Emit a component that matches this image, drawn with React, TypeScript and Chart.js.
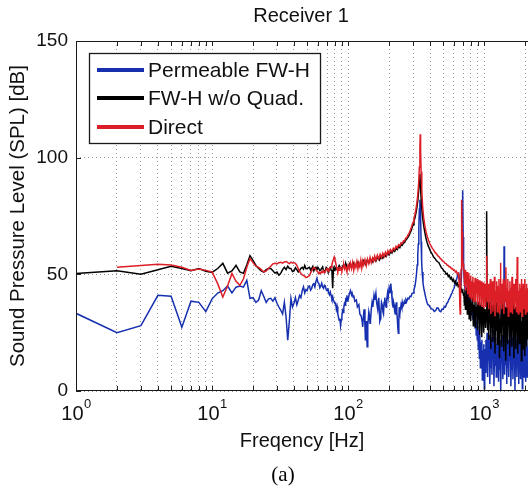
import React, { useEffect, useRef } from 'react';
import { Chart, registerables } from 'chart.js';

Chart.register(...registerables);

const FONT = 'Arial, "Liberation Sans", Helvetica, sans-serif';
const SERIF = '"Times New Roman", "Liberation Serif", serif';

const chartTitle = 'Receiver 1';
const caption = '(a)';
const xAxisTitle = 'Freqency [Hz]';
const yAxisTitle = 'Sound Pressure Level (SPL) [dB]';
const xMajorValues = [1, 10, 100, 1000];
const xTickBase = '10';
const xTickExponents = ['0', '1', '2', '3'];
const xGridValues = [
  1, 2, 3, 4, 5, 6, 7, 8, 9,
  10, 20, 30, 40, 50, 60, 70, 80, 90,
  100, 200, 300, 400, 500, 600, 700, 800, 900,
  1000, 2000,
];
const yTickValues = [0, 50, 100, 150];
const seriesNames = ['Permeable FW-H', 'FW-H w/o Quad.', 'Direct'];
const seriesColors = ['#1630b0', '#000000', '#dc1e26'];

// [frequency Hz, SPL dB]
const permeableFWH: [number, number][] = [
  [1, 33.3], [2, 25], [3, 28], [4, 41], [5, 40.6], [6, 27.3], [7, 38.5], [8, 38], [9, 34], [10, 39.5],
  [11, 42], [12, 43], [13, 45], [14, 42], [15, 44.5], [16, 45], [17, 44.5], [18, 47.4], [19, 39.7], [20, 40],
  [21, 38], [22, 39], [23, 43], [24, 40.5], [25, 38], [26, 39.5], [27, 39.7], [28, 38.5], [29, 40], [30, 37.6],
  [31, 36], [32, 34.6], [33, 33], [34, 38], [35, 31.8], [36, 21.8], [37, 30], [38, 39.7], [39, 36], [40, 37.6],
  [41, 40], [42, 37], [43, 38.9], [44, 41], [45, 40], [46, 43], [47, 44.6], [48, 42], [49, 43.5], [50, 43],
  [51, 44.8], [52, 45], [53, 43.2], [54, 44], [55, 45.6], [56, 46], [57, 44.6], [58, 47], [59, 48.3], [60, 46.5],
  [61, 46], [62, 44.2], [63, 45], [64, 46.2], [65, 44.5], [66, 44], [67, 45.3], [68, 45], [69, 43.4], [70, 43],
  [71, 44.1], [72, 42], [73, 41.2], [74, 42.4], [75, 41], [76, 39.6], [77, 40.5], [78, 39], [79, 38.2], [80, 37.6],
  [81, 37.6], [82, 35], [83, 36.2], [84, 33], [85, 31.6], [86, 30.3], [87, 31], [88, 28], [89, 30.5], [90, 32],
  [91, 34.4], [92, 33.6], [93, 36], [94, 37.5], [95, 36.8], [96, 40], [97, 38.5], [98, 41], [99, 39.5], [100, 39],
  [102, 41.5], [104, 43], [106, 41.2], [107, 42], [109, 40.2], [110, 41], [112, 38.4], [115, 39], [117, 36], [120, 37],
  [122, 33], [125, 32], [127, 29.5], [128, 27.5], [130, 33], [131, 35], [133, 28], [134, 22], [135, 26], [136, 30],
  [137, 24], [138, 19], [139, 23], [140, 28], [142, 34], [143, 33], [145, 29], [146, 30], [148, 35], [150, 38],
  [152, 36], [155, 41], [157, 39], [160, 42], [162, 38], [165, 35], [167, 39], [168, 40], [170, 33], [171, 30],
  [173, 31], [174, 34], [176, 38], [178, 37], [180, 34], [182, 33], [184, 38], [186, 40], [188, 37], [190, 36],
  [192, 39], [195, 42], [197, 40], [200, 44], [203, 42], [206, 46], [208, 43], [210, 40], [212, 37], [214, 36],
  [216, 38], [218, 37], [220, 34], [222, 33], [224, 36], [226, 38], [228, 34], [230, 31], [232, 27], [234, 24.8],
  [236, 30], [237, 34], [239, 33], [240, 36], [242, 34.5], [245, 37], [248, 35.8], [250, 38], [253, 36.4], [256, 37],
  [259, 38.4], [262, 37.6], [266, 39.2], [270, 38.5], [275, 39.8], [280, 39.5], [285, 40.6], [290, 40.5], [295, 41.8], [300, 42],
  [305, 43.5], [310, 45], [314, 47.2], [318, 50], [322, 54], [325, 58], [328, 63], [331, 70], [334, 78], [337, 82],
  [339, 80], [341, 74], [344, 64], [347, 56], [350, 51], [355, 46.5], [360, 44], [366, 42], [372, 40], [378, 38.5],
  [385, 37], [392, 36.8], [400, 36], [410, 35.2], [420, 35], [430, 34.1], [440, 34.5], [450, 35.6], [460, 35.5], [470, 34.3],
  [480, 34], [490, 35.1], [500, 35], [510, 36.2], [520, 36], [530, 37.4], [540, 38], [550, 39.2], [560, 40], [570, 41.1],
  [580, 42], [590, 43.2], [600, 44], [610, 45.4], [620, 47], [630, 48.2], [640, 50], [650, 50.4], [660, 48], [668, 46.5],
  [675, 45], [682, 50], [688, 62], [693, 80], [697, 86], [701, 66], [706, 55], [712, 49], [718, 46], [724, 43.5],
  [730, 46], [736, 41.5], [742, 44.5], [748, 39.5], [754, 43], [760, 38.5], [766, 42], [772, 36.5], [778, 41], [784, 35.5],
  [790, 39.5], [796, 34], [802, 38], [810, 32.5], [818, 36.5], [826, 30.5], [834, 35], [842, 29], [850, 33.5], [858, 27],
  [866, 32], [874, 24], [882, 30], [890, 22], [898, 28], [906, 18], [914, 26], [922, 14], [930, 24], [938, 10],
  [946, 21], [954, 16], [962, 22], [970, 4.7], [978, 17.5], [986, 9], [994, 20], [1002, 1], [1010, 18], [1020, 8],
  [1030, 22], [1040, 12], [1050, 25], [1060, 6], [1070, 19], [1080, 13], [1090, 24], [1100, 3], [1110, 17], [1120, 10],
  [1130, 23], [1140, 7], [1150, 20], [1160, 14], [1170, 26], [1180, 2], [1192, 18], [1204, 11], [1216, 23], [1228, 6],
  [1240, 20], [1252, 13], [1264, 25], [1276, 4], [1288, 17], [1300, 9], [1312, 22], [1324, 0], [1336, 19], [1348, 12],
  [1360, 24], [1372, 5], [1384, 18], [1394, 14], [1400, 62], [1406, 20], [1418, 7], [1430, 21], [1442, 11], [1454, 24],
  [1466, 3], [1478, 18], [1490, 10], [1502, 22], [1516, 6], [1530, 19], [1544, 13], [1558, 25], [1572, 2], [1586, 17],
  [1600, 9], [1614, 23], [1628, 5], [1642, 20], [1656, 12], [1670, 24], [1684, 0], [1698, 18], [1712, 10], [1726, 22],
  [1740, 6], [1754, 19], [1768, 14], [1782, 25], [1796, 3], [1810, 17], [1824, 9], [1838, 23], [1852, 5], [1866, 20],
  [1880, 12], [1894, 24], [1908, 1], [1922, 18], [1936, 10], [1950, 22], [1964, 6], [1978, 19], [1992, 13], [2006, 24],
  [2020, 4], [2034, 17], [2048, 9], [2062, 22], [2076, 6], [2090, 19], [2100, 12],
];

const fwhWithoutQuad: [number, number][] = [
  [1, 50.4], [2, 51.5], [3, 50], [4, 52], [5, 53.5], [6, 52.5], [7, 51.5], [8, 52.5], [9, 51.3], [10, 50.8],
  [11, 52.5], [12, 54.7], [13, 50.5], [14, 51.5], [15, 53.8], [16, 51], [17, 50.4], [18, 54], [19, 58], [20, 56],
  [21, 53.8], [22, 52.5], [23, 51.5], [24, 51], [25, 52], [26, 52.5], [27, 52.5], [28, 51.5], [29, 50.5], [30, 51],
  [31, 49.6], [32, 50.5], [33, 52], [34, 53], [35, 52], [36, 53.5], [37, 52.5], [38, 52.5], [39, 51.2], [40, 51.5],
  [41, 52.8], [42, 52], [43, 51], [44, 51.7], [45, 52.6], [46, 53], [47, 52.2], [48, 53.8], [49, 52.4], [50, 52.5],
  [52, 53], [53, 51.8], [54, 52.5], [55, 53.4], [56, 51.5], [57, 52.6], [58, 53], [59, 52.1], [60, 53], [62, 51.6],
  [63, 52], [65, 53.2], [66, 51.5], [68, 51.7], [69, 52.9], [70, 52.5], [71, 51.4], [72, 51], [73, 52.6], [74, 53],
  [75, 51.8], [76, 52], [77, 44], [78, 52.5], [79, 51.6], [80, 53], [82, 52.2], [83, 52], [85, 53.1], [86, 53.8],
  [88, 52.7], [90, 52.5], [92, 53.9], [93, 54], [95, 52.8], [96, 54.7], [98, 53.4], [100, 53], [103, 54.6], [106, 53.1],
  [109, 54.9], [112, 53.4], [115, 54.2], [118, 55.3], [121, 53.6], [124, 55], [127, 54.1], [130, 55.8], [134, 54.2], [138, 56],
  [142, 54.9], [146, 56.4], [150, 55.2], [155, 56.8], [160, 55.6], [165, 57.4], [170, 56.1], [175, 57.9], [180, 56.9], [185, 58.4],
  [190, 57.6], [195, 59.2], [200, 58.3], [205, 59.6], [210, 59.1], [215, 60.4], [220, 59.8], [225, 61], [230, 60.6], [235, 61.9],
  [240, 61.4], [245, 62.6], [250, 62.4], [255, 63.5], [260, 63.6], [265, 64.6], [270, 65.1], [275, 65.8], [280, 66.6], [285, 67.6],
  [290, 68.6], [295, 70], [300, 71.2], [305, 72.8], [310, 74.2], [315, 76.2], [320, 78.5], [325, 81.5], [330, 85.5], [334, 90],
  [337, 93], [340, 89], [343, 84], [347, 79], [352, 75], [358, 71.5], [365, 68.5], [372, 66], [380, 63.8], [388, 62.2],
  [396, 61], [405, 59.6], [415, 58.7], [425, 57.4], [435, 56.8], [445, 55.9], [455, 55.4], [465, 55], [475, 53.9], [485, 52.8],
  [495, 52.4], [505, 51.4], [515, 51.2], [525, 50.1], [535, 50.4], [545, 49], [555, 49.5], [565, 48.1], [575, 48.6], [585, 47.2],
  [595, 47.8], [605, 46.4], [615, 47], [625, 45.5], [635, 46.2], [645, 44.8], [655, 45.4], [665, 43.7], [675, 44.3], [685, 42.6],
  [695, 43.2], [705, 41], [710, 42], [716, 37], [722, 43.5], [728, 35], [734, 41], [740, 38.5], [746, 44], [752, 33],
  [758, 40], [764, 36.5], [770, 42.5], [776, 31], [782, 39], [788, 35.5], [794, 41.5], [800, 30], [808, 38], [816, 34],
  [824, 40.5], [832, 28], [840, 37], [848, 33.5], [856, 39.5], [864, 27], [872, 36], [880, 32], [888, 38.5], [896, 26],
  [904, 35], [912, 31], [920, 38], [928, 24], [936, 34], [944, 30], [952, 37], [960, 23], [968, 33], [976, 29],
  [984, 36], [992, 25], [1000, 34], [1008, 30], [1016, 35], [1024, 27], [1032, 33], [1040, 34], [1046, 77], [1052, 32],
  [1060, 26], [1070, 38], [1080, 22], [1090, 35], [1100, 29], [1110, 40], [1120, 18], [1130, 33], [1140, 27], [1150, 37],
  [1160, 21], [1170, 34], [1180, 30], [1190, 41], [1200, 16], [1212, 32], [1224, 26], [1236, 38], [1248, 20], [1260, 35],
  [1272, 28], [1284, 39], [1296, 14], [1308, 31], [1320, 25], [1332, 37], [1344, 19], [1356, 34], [1368, 29], [1380, 42],
  [1392, 17], [1404, 33], [1416, 26], [1428, 36], [1440, 13], [1452, 31], [1464, 24], [1476, 38], [1488, 20], [1500, 34],
  [1514, 28], [1528, 40], [1542, 15], [1556, 32], [1570, 25], [1584, 37], [1598, 19], [1612, 33], [1626, 27], [1640, 39],
  [1654, 14], [1668, 31], [1682, 24], [1696, 36], [1710, 18], [1724, 34], [1738, 28], [1752, 41], [1766, 16], [1780, 32],
  [1794, 25], [1808, 37], [1822, 20], [1836, 33], [1850, 27], [1864, 38], [1878, 13], [1892, 30], [1906, 24], [1920, 36],
  [1934, 18], [1948, 32], [1962, 26], [1976, 39], [1990, 15], [2004, 31], [2018, 23], [2032, 35], [2046, 19], [2060, 33],
  [2074, 27], [2088, 37], [2100, 22],
];

const direct: [number, number][] = [
  [2, 53], [3, 53.8], [4, 54.3], [5, 54], [6, 53], [7, 51.7], [8, 52.3], [9, 51.7], [10, 51], [11, 46],
  [12, 40.3], [13, 45], [14, 50.4], [15, 47], [16, 45.3], [17, 48], [18, 53], [19, 56.8], [20, 55], [21, 53.5],
  [22, 53], [23, 52], [24, 51], [25, 51.5], [26, 52.5], [27, 53.5], [28, 54.5], [29, 54.7], [30, 54.5], [31, 55],
  [32, 55.2], [33, 54.8], [34, 55.3], [35, 55.5], [36, 55], [37, 54.6], [38, 55.2], [39, 54.9], [40, 55], [41, 54.7],
  [42, 53.8], [43, 52.5], [44, 51.2], [45, 50.4], [46, 49.8], [47, 49.5], [48, 49.2], [49, 48.6], [50, 48.8], [51, 49.1],
  [52, 49.5], [53, 50.6], [54, 51.5], [55, 52.4], [56, 53], [57, 52.6], [58, 52], [59, 51.4], [60, 51], [61, 50.2],
  [62, 50.8], [63, 50.4], [64, 51.3], [65, 50.9], [66, 51.5], [67, 50.6], [68, 51], [69, 52.1], [70, 52.5], [71, 51.7],
  [72, 51.5], [73, 52.4], [74, 53.2], [75, 53], [76, 54.1], [77, 55.5], [78, 56.4], [79, 57.4], [80, 56.3], [81, 55],
  [82, 53.5], [83, 52], [84, 51.3], [85, 52.4], [86, 51.7], [87, 52.8], [88, 53], [89, 51.9], [90, 51.5], [91, 52.6],
  [92, 53.4], [93, 53.8], [94, 52.5], [95, 53.6], [96, 53], [97, 51.8], [98, 51], [99, 53.1], [100, 54], [102, 52.2],
  [104, 54.8], [106, 52.5], [108, 55.1], [110, 51.8], [112, 54.6], [114, 53], [116, 55.4], [118, 52.4], [120, 54.9], [122, 53.3],
  [124, 56], [126, 52.8], [128, 55.6], [130, 54], [133, 56.3], [136, 53.7], [139, 56.5], [142, 54.6], [145, 57.2], [148, 55],
  [151, 57], [154, 55.6], [157, 57.8], [160, 56.1], [164, 58.2], [168, 56.6], [172, 58.6], [176, 57.1], [180, 59], [184, 57.6],
  [188, 59.5], [192, 58.2], [196, 60.1], [200, 58.9], [205, 60.6], [210, 59.7], [215, 61.2], [220, 60.5], [225, 62], [230, 61.3],
  [235, 62.7], [240, 62.2], [245, 63.5], [250, 63.2], [255, 64.4], [260, 64.3], [265, 65.5], [270, 65.7], [275, 66.8], [280, 67.4],
  [285, 68.6], [290, 69.6], [295, 71], [300, 72.3], [305, 74], [310, 75.6], [315, 77.8], [320, 80.4], [325, 84], [330, 89],
  [334, 96], [337, 104], [339, 110], [341, 103], [344, 94], [348, 86], [353, 79], [359, 74.5], [366, 71], [374, 68.2],
  [382, 66.1], [390, 64.6], [398, 63.2], [406, 62.3], [415, 61.2], [425, 60.5], [435, 59.4], [445, 58.9], [455, 58], [465, 57.6],
  [475, 56.8], [485, 56.4], [495, 55.7], [505, 55.5], [515, 54.8], [525, 54.6], [535, 53.9], [545, 53.8], [555, 53.1], [565, 53.1],
  [575, 52.4], [585, 52.5], [595, 51.7], [605, 51.9], [615, 51], [625, 51.3], [635, 50.2], [645, 50.5], [652, 48], [658, 44],
  [663, 36], [667, 33], [671, 42], [676, 52], [681, 66], [685, 82], [689, 68], [694, 57], [700, 54.5], [706, 52.5],
  [712, 50.5], [718, 45], [724, 52], [730, 43], [736, 49.5], [742, 46], [748, 51], [754, 41.5], [760, 48.5], [766, 44.5],
  [772, 50.5], [778, 40.5], [784, 48], [790, 44], [796, 49.5], [802, 39.5], [810, 47], [818, 43.5], [826, 49], [834, 38.5],
  [842, 46.5], [850, 42.5], [858, 48.5], [866, 38], [874, 46], [882, 42], [890, 48], [898, 37], [906, 45.5], [914, 41.5],
  [922, 47.5], [930, 36.5], [938, 45], [946, 41], [954, 47], [962, 36], [970, 44.5], [978, 40.5], [986, 46.5], [994, 35.5],
  [1002, 44], [1010, 40], [1018, 46], [1026, 36], [1034, 43.5], [1042, 48], [1046, 58], [1050, 45], [1060, 38], [1070, 46],
  [1080, 35], [1090, 44], [1100, 40], [1110, 48], [1120, 33], [1130, 43], [1140, 39], [1150, 47], [1160, 34], [1170, 44],
  [1180, 41], [1190, 49], [1200, 32], [1212, 43], [1224, 38], [1236, 47], [1248, 34], [1260, 45], [1272, 40], [1284, 48],
  [1296, 33], [1308, 42], [1318, 55], [1326, 37], [1336, 46], [1348, 35], [1360, 44], [1372, 40], [1384, 48], [1396, 33],
  [1408, 43], [1420, 38], [1432, 47], [1444, 53], [1456, 36], [1468, 44], [1480, 39], [1492, 48], [1504, 32], [1518, 43],
  [1532, 38], [1546, 47], [1560, 34], [1574, 44], [1588, 40], [1602, 49], [1616, 33], [1630, 42], [1644, 37], [1658, 46],
  [1672, 35], [1686, 44], [1700, 39], [1714, 48], [1728, 34], [1742, 45], [1750, 57.4], [1758, 40], [1772, 47], [1786, 33],
  [1800, 43], [1814, 38], [1828, 46], [1842, 34], [1856, 44], [1870, 39], [1884, 48], [1898, 32], [1912, 42], [1926, 37],
  [1940, 46], [1954, 35], [1968, 44], [1982, 40], [1996, 48], [2010, 33], [2024, 43], [2038, 38], [2052, 46], [2066, 34],
  [2080, 44], [2094, 40], [2100, 42],
];

const seriesData = [permeableFWH, fwhWithoutQuad, direct];

const decorPlugin = {
  id: 'decor',
  afterDatasetsDraw(chart: any) {
    const { ctx, chartArea: a, scales } = chart;
    ctx.save();
    // inward tick marks
    ctx.strokeStyle = '#222';
    ctx.lineWidth = 1;
    ctx.setLineDash([]);
    ctx.beginPath();
    xGridValues.forEach((v) => {
      const px = Math.round(scales.x.getPixelForValue(v)) + 0.5;
      ctx.moveTo(px, a.bottom);
      ctx.lineTo(px, a.bottom - 5);
      ctx.moveTo(px, a.top);
      ctx.lineTo(px, a.top + 5);
    });
    yTickValues.forEach((v) => {
      const py = Math.round(scales.y.getPixelForValue(v)) + 0.5;
      ctx.moveTo(a.left, py);
      ctx.lineTo(a.left + 5, py);
    });
    ctx.stroke();
    // frame (right side lies beyond the canvas edge, as in the cropped original)
    ctx.strokeStyle = '#1a1a1a';
    ctx.strokeRect(a.left + 0.5, a.top + 0.5, a.right - a.left + 6, a.bottom - a.top - 1);

    // legend box
    const bx = a.left + 13;
    const by = a.top + 12;
    const bw = 231;
    const bh = 90;
    ctx.fillStyle = '#ffffff';
    ctx.fillRect(bx, by, bw, bh);
    ctx.strokeStyle = '#1a1a1a';
    ctx.lineWidth = 1.3;
    ctx.strokeRect(bx + 0.5, by + 0.5, bw, bh);
    const rows = [17, 45, 74];
    ctx.font = `21px ${FONT}`;
    ctx.textBaseline = 'middle';
    ctx.textAlign = 'left';
    seriesNames.forEach((name, i) => {
      const y = by + rows[i];
      ctx.strokeStyle = seriesColors[i];
      ctx.lineWidth = 4;
      ctx.beginPath();
      ctx.moveTo(bx + 8, y);
      ctx.lineTo(bx + 55, y);
      ctx.stroke();
      ctx.fillStyle = '#111';
      ctx.fillText(name, bx + 59, y + 1);
    });
    ctx.restore();
  },
  afterDraw(chart: any) {
    const { ctx, scales } = chart;
    ctx.save();
    // x tick labels 10^n, placed at the log scale's own pixels
    ctx.fillStyle = '#111';
    ctx.textBaseline = 'alphabetic';
    ctx.textAlign = 'left';
    xMajorValues.forEach((v, i) => {
      const px = scales.x.getPixelForValue(v);
      ctx.font = `20px ${FONT}`;
      const wb = ctx.measureText(xTickBase).width;
      ctx.font = `13px ${FONT}`;
      const we = ctx.measureText(xTickExponents[i]).width;
      const x0 = px - (wb + we) / 2;
      ctx.font = `20px ${FONT}`;
      ctx.fillText(xTickBase, x0, 420);
      ctx.font = `13px ${FONT}`;
      ctx.fillText(xTickExponents[i], x0 + wb + 0.5, 408);
    });
    // title and caption
    ctx.textAlign = 'center';
    ctx.textBaseline = 'middle';
    ctx.font = `20px ${FONT}`;
    ctx.fillText(chartTitle, 301, 16);
    ctx.fillStyle = '#000';
    ctx.font = `21px ${SERIF}`;
    ctx.fillText(caption, 283, 475);
    ctx.restore();
  },
};

export default function App() {
  const canvasRef = useRef<HTMLCanvasElement | null>(null);

  useEffect(() => {
    if (!canvasRef.current) return;
    const chart = new Chart(canvasRef.current, {
      type: 'line',
      data: {
        datasets: seriesData.map((pts, i) => ({
          label: seriesNames[i],
          data: pts.map(([x, y]) => ({ x, y })),
          borderColor: seriesColors[i],
          backgroundColor: seriesColors[i],
          borderWidth: 1.5,
          pointRadius: 0,
          fill: false,
          tension: 0,
          order: 3 - i,
        })),
      },
      options: {
        animation: false,
        responsive: true,
        maintainAspectRatio: false,
        events: [],
        layout: { padding: { top: 41, left: 0, right: 0, bottom: 0 } },
        plugins: {
          legend: { display: false },
          tooltip: { enabled: false },
          title: { display: false },
        },
        scales: {
          x: {
            type: 'logarithmic',
            min: 1,
            max: 2100,
            afterBuildTicks: (scale: any) => {
              scale.ticks = xGridValues.map((v) => ({ value: v }));
            },
            afterFit: (scale: any) => {
              scale.height = 100;
            },
            grid: { color: '#9a9a9a', lineWidth: 1, drawTicks: false },
            border: { display: false, dash: [1, 3] },
            ticks: { display: false, autoSkip: false },
            title: {
              display: true,
              text: xAxisTitle,
              color: '#111',
              font: { family: FONT, size: 20 },
              padding: { top: 0, bottom: 38 },
            },
          },
          y: {
            type: 'linear',
            min: 0,
            max: 150,
            afterBuildTicks: (scale: any) => {
              scale.ticks = yTickValues.map((v) => ({ value: v }));
            },
            afterFit: (scale: any) => {
              scale.width = 76;
            },
            grid: { color: '#9a9a9a', lineWidth: 1, drawTicks: false },
            border: { display: false, dash: [1, 3] },
            ticks: {
              padding: 8,
              color: '#111',
              font: { family: FONT, size: 19 },
            },
            title: {
              display: true,
              text: yAxisTitle,
              color: '#111',
              font: { family: FONT, size: 20.5 },
              padding: { top: 6, bottom: 0 },
            },
          },
        },
      },
      plugins: [decorPlugin],
    } as any);
    return () => chart.destroy();
  }, []);

  return (
    <div style={{ position: 'fixed', left: 0, top: 0, width: 528, height: 491, background: '#fff' }}>
      <canvas ref={canvasRef} />
    </div>
  );
}
